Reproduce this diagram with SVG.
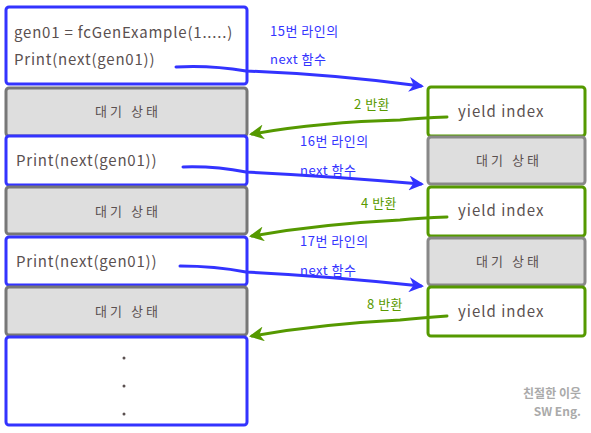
<svg xmlns="http://www.w3.org/2000/svg" width="591" height="433" viewBox="0 0 591 433">
<defs>
<style>
.blue{fill:#fff;stroke:#3333ff;stroke-width:3;stroke-linejoin:round}
.grey{fill:#dedede;stroke:#777;stroke-width:3;stroke-linejoin:round}
.green{fill:#fff;stroke:#559900;stroke-width:3;stroke-linejoin:round}
.greyr{fill:#dedede;stroke:#888;stroke-width:3;stroke-linejoin:round}
text{font-family:"Noto Sans CJK KR","Noto Sans",sans-serif}
.code{font-size:15px;fill:#5a5050;letter-spacing:0.8px}
.wait{font-size:13px;fill:#5a5050;text-anchor:middle;letter-spacing:3px}
.bl{font-size:13px;fill:#3333ff;letter-spacing:0.5px}
.gl{font-size:13px;fill:#5a9a00;letter-spacing:0.5px}
.yi{font-size:15px;fill:#5a5050;letter-spacing:1px}
.ba{fill:none;stroke:#3333ff;stroke-width:3;stroke-linecap:round}
.ga{fill:none;stroke:#559900;stroke-width:3;stroke-linecap:round}
.dot{fill:#5a5050}
.wm{font-size:12px;font-weight:bold;fill:#aaa;text-anchor:end}
</style>
<marker id="ab" viewBox="0 0 10 10" refX="8" refY="5" markerWidth="5" markerHeight="5" orient="auto" markerUnits="strokeWidth">
<path d="M0,0 L10,5 L0,10 L3,5 z" fill="#3333ff"/>
</marker>
<marker id="ag" viewBox="0 0 10 10" refX="8" refY="5" markerWidth="5" markerHeight="5" orient="auto" markerUnits="strokeWidth">
<path d="M0,0 L10,5 L0,10 L3,5 z" fill="#559900"/>
</marker>
</defs>
<g id="main1"><rect class="blue" x="6" y="7" width="241" height="77" rx="3"/>
<text class="code" x="14" y="38">gen01 = fcGenExample(1.....)</text>
<text class="code" x="14" y="65">Print(next(gen01))</text></g>
<g id="wait1"><rect class="grey" x="6" y="88" width="241" height="48" rx="3"/><text class="wait" x="128" y="116">대기 상태</text></g>
<g id="main2"><rect class="blue" x="6" y="136" width="241" height="49" rx="3"/><text class="code" x="16" y="166">Print(next(gen01))</text></g>
<g id="wait2"><rect class="grey" x="6" y="187" width="241" height="47" rx="3"/><text class="wait" x="128" y="216">대기 상태</text></g>
<g id="main3"><rect class="blue" x="6" y="237" width="241" height="48" rx="3"/><text class="code" x="16" y="267">Print(next(gen01))</text></g>
<g id="wait3"><rect class="grey" x="6" y="287" width="241" height="48" rx="3"/><text class="wait" x="128" y="316">대기 상태</text></g>
<g id="main4"><rect class="blue" x="6" y="337" width="241" height="88" rx="3"/>
<circle class="dot" cx="124" cy="358" r="1.5"/><circle class="dot" cx="124" cy="386" r="1.5"/><circle class="dot" cx="124" cy="414" r="1.5"/></g>
<g id="yield1"><rect class="green" x="428" y="87" width="157" height="49" rx="3"/><text class="yi" x="458" y="117">yield index</text></g>
<g id="rwait1"><rect class="greyr" x="428" y="137" width="157" height="47" rx="3"/><text class="wait" x="509" y="165">대기 상태</text></g>
<g id="yield2"><rect class="green" x="428" y="187" width="157" height="49" rx="3"/><text class="yi" x="458" y="216">yield index</text></g>
<g id="rwait2"><rect class="greyr" x="428" y="238" width="157" height="47" rx="3"/><text class="wait" x="509" y="266">대기 상태</text></g>
<g id="yield3"><rect class="green" x="428" y="287" width="157" height="49" rx="3"/><text class="yi" x="458" y="317">yield index</text></g>
<g id="connectors">
<path class="ba" d="M176,67 Q210,65 246,71 Q330,74 421,86" marker-end="url(#ab)"/>
<path class="ga" d="M447,117 Q420,118 400,120 Q320,122 252,134" marker-end="url(#ag)"/>
<path class="ba" d="M183,167 Q215,166 246,172 Q330,176 421,184" marker-end="url(#ab)"/>
<path class="ga" d="M447,217 Q420,218 400,220 Q320,224 252,236" marker-end="url(#ag)"/>
<path class="ba" d="M180,266 Q215,266 246,272 Q330,276 421,286" marker-end="url(#ab)"/>
<path class="ga" d="M447,316 Q420,318 400,320 Q320,324 252,336" marker-end="url(#ag)"/>
</g>
<g id="labels">
<text class="bl" x="270" y="36">15번 라인의</text>
<text class="bl" x="270" y="64">next 함수</text>
<text class="gl" x="354" y="109">2 반환</text>
<text class="bl" x="300" y="146">16번 라인의</text>
<text class="bl" x="300" y="175">next 함수</text>
<text class="gl" x="361" y="208">4 반환</text>
<text class="bl" x="300" y="246">17번 라인의</text>
<text class="bl" x="300" y="275">next 함수</text>
<text class="gl" x="367" y="309">8 반환</text>
</g>
<g id="watermark">
<text class="wm" x="581" y="398">친절한 이웃</text>
<text class="wm" x="581" y="416">SW Eng.</text>
</g>
</svg>
